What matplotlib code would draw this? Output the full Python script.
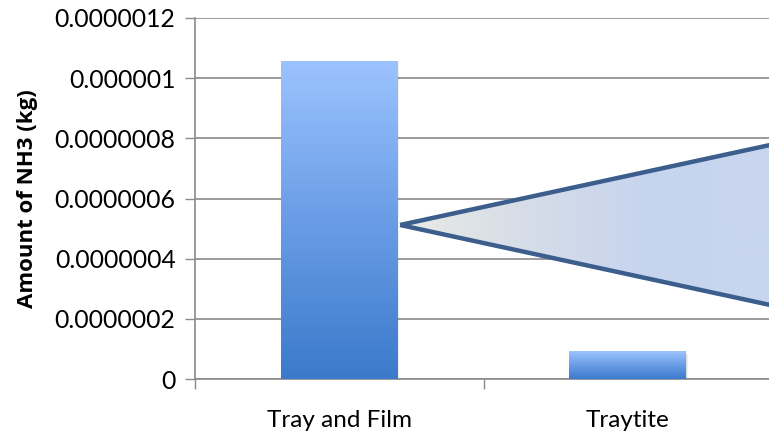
"""Bar chart of NH3 amount per packaging option, with callout wedge."""

import matplotlib

matplotlib.use("Agg")

import matplotlib.pyplot as plt
import numpy as np
from matplotlib.colors import LinearSegmentedColormap
from matplotlib.patches import Polygon, Rectangle


CATEGORIES = ["Tray and Film", "Traytite"]
NH3_KG = [1.058e-6, 0.093e-6]
Y_TICKS = [0, 2e-7, 4e-7, 6e-7, 8e-7, 1e-6, 1.2e-6]
Y_TICK_LABELS = ["0", "0.0000002", "0.0000004", "0.0000006", "0.0000008",
                 "0.000001", "0.0000012"]

# callout wedge: tip next to first bar, opening toward the right edge
CALLOUT_X = [0.211, 1.60, 1.60]
CALLOUT_Y = [0.512e-6, 0.800e-6, 0.224e-6]

GRID_COLOR = "#8a8a8a"


def main() -> None:
    plt.rcParams["font.family"] = ["Lato", "DejaVu Sans"]

    fig = plt.figure(figsize=(7.69, 4.40), dpi=100)
    ax = fig.add_axes([0.2536, 0.1386, 0.7503, 0.8205])

    ax.set_xlim(-0.5, 1.5)
    ax.set_ylim(0, 1.2e-6)

    ax.set_yticks(Y_TICKS)
    ax.set_yticklabels(Y_TICK_LABELS)
    ax.set_xticks(range(len(CATEGORIES)))
    ax.set_xticklabels(CATEGORIES)
    ax.set_xticks([-0.5, 0.5, 1.5], minor=True)
    ax.tick_params(axis="x", which="major", length=0, pad=22, labelsize=17.5)
    ax.tick_params(axis="x", which="minor", length=7, direction="out",
                   color=GRID_COLOR, width=1)
    ax.tick_params(axis="y", length=7, direction="out", color=GRID_COLOR,
                   width=1, labelsize=17.8, pad=7)

    ax.yaxis.grid(True, color=GRID_COLOR, linewidth=1.2)
    ax.set_axisbelow(True)
    for side in ("top", "right"):
        ax.spines[side].set_visible(False)
    for side in ("left", "bottom"):
        ax.spines[side].set_color(GRID_COLOR)
        ax.spines[side].set_linewidth(1.2)

    ax.set_ylabel("Amount of NH3 (kg)", fontsize=16, fontweight="bold",
                  family=["Open Sans", "DejaVu Sans"], labelpad=12)

    # soft shadow behind bars
    for i, v in enumerate(NH3_KG):
        for k, a in enumerate([0.10, 0.08, 0.06]):
            off = 0.006 * (k + 1)
            ax.add_patch(Rectangle((i - 0.2 + off * 0.4, -off * 1e-6 * 0.6),
                                   0.4, v, facecolor="#000000", alpha=a,
                                   edgecolor="none", zorder=2))

    bars = ax.bar(range(len(CATEGORIES)), NH3_KG, width=0.405,
                  facecolor="none", edgecolor="none", zorder=3)
    bar_cmap = LinearSegmentedColormap.from_list(
        "bar", ["#3b7acb", "#6a9de6", "#9cc3ff"])
    grad = np.linspace(0, 1, 256).reshape(-1, 1)
    for bar in bars:
        x0, y0 = bar.get_x(), bar.get_y()
        w, h = bar.get_width(), bar.get_height()
        im = ax.imshow(grad, cmap=bar_cmap, origin="lower", aspect="auto",
                       extent=[x0, x0 + w, y0, y0 + h], zorder=3)
        im.set_clip_path(bar)

    # callout wedge with horizontal gradient fill
    verts = np.column_stack([CALLOUT_X, CALLOUT_Y])
    wedge_fill = Polygon(verts, closed=True, facecolor="none",
                         edgecolor="none", zorder=4)
    ax.add_patch(wedge_fill)
    wedge_cmap = LinearSegmentedColormap.from_list(
        "wedge", ["#e9ebe5", "#d6dde8", "#c6d4ee", "#c9d6ee"])
    hgrad = np.linspace(0, 1, 256).reshape(1, -1)
    wim = ax.imshow(hgrad, cmap=wedge_cmap, origin="lower", aspect="auto",
                    extent=[CALLOUT_X[0], 1.5, 0.2e-6, 0.82e-6], zorder=4)
    wim.set_clip_path(wedge_fill)
    ax.add_patch(Polygon(verts, closed=True, facecolor="none",
                         edgecolor="#3b5e8d", linewidth=3.2,
                         joinstyle="round", zorder=5, clip_on=False))

    ax.set_xlim(-0.5, 1.5)
    ax.set_ylim(0, 1.2e-6)

    fig.savefig("out.png", dpi=100)
    plt.close(fig)


if __name__ == "__main__":
    main()
